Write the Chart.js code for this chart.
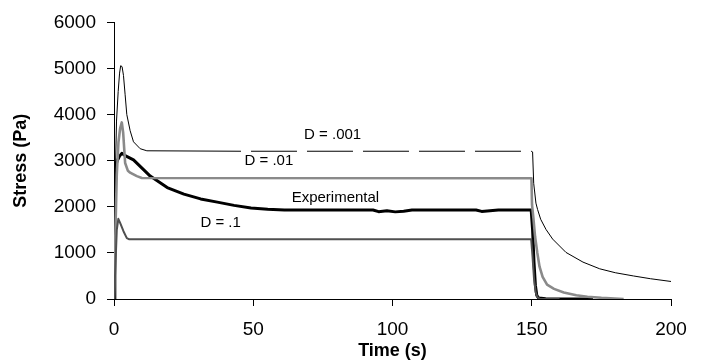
<!DOCTYPE html>
<html>
<head>
<meta charset="utf-8">
<script src="https://cdn.jsdelivr.net/npm/chart.js@4.4.1/dist/chart.umd.min.js"></script>
<style>
  html, body { margin: 0; padding: 0; background: #fff; }
  #wrap { width: 701px; height: 362px; position: relative; }
</style>
</head>
<body>
<div id="wrap"><canvas id="stressChart"></canvas></div>
<script>
/* Stress relaxation: model runs (D = .001 / .01 / .1) vs experimental */

// D = .001
const d001Time   = [0, 0.3, 0.9, 1.5, 2.0, 2.4, 2.9, 3.4, 4.0, 4.6, 5.8, 7.0, 9.4, 11.8, 45.6, 149.8, 150.3, 150.7, 151.5, 152.1, 153.2, 155.1, 157.5, 162.3, 168.4, 174.4, 180, 186.5, 192.6, 200];
const d001Stress = [0, 2200, 3860, 4500, 4900, 5060, 5040, 4850, 4430, 4000, 3650, 3410, 3260, 3215, 3205, 3205, 3190, 2510, 2080, 1940, 1730, 1510, 1300, 1010, 800, 655, 570, 500, 440, 380];

// D = .01
const d01Time   = [0, 0.4, 1.0, 1.6, 2.2, 2.8, 3.3, 4.0, 5.0, 5.8, 8.2, 10, 149.9, 150.1, 150.6, 151.2, 152.0, 152.8, 153.9, 155.5, 158, 161.5, 166, 170, 175, 183];
const d01Stress = [0, 1200, 2700, 3400, 3700, 3830, 3600, 2950, 2780, 2740, 2665, 2625, 2620, 2040, 1750, 1350, 1000, 700, 480, 310, 220, 140, 80, 50, 25, 0];

// Experimental
const expTime   = [0, 0.3, 0.6, 1.2, 2.0, 2.8, 4.0, 7.0, 13.0, 19.1, 25.1, 31.1, 37.1, 43.1, 49.2, 55.2, 61.2, 93, 95, 98, 101, 104, 107, 130, 132, 135, 138, 149.8, 150.3, 150.8, 151.3, 151.8, 152.5, 155, 165, 172];
const expStress = [0, 2950, 2900, 3000, 3100, 3160, 3110, 3017, 2666, 2418, 2276, 2171, 2101, 2031, 1974, 1946, 1930, 1930, 1895, 1915, 1890, 1905, 1930, 1930, 1900, 1915, 1930, 1930, 1500, 800, 300, 80, 20, 5, 0, 0];

// D = .1
const d1Time   = [0, 0.5, 1.0, 1.55, 2.2, 3.4, 4.6, 5.5, 149.8, 150.3, 150.8, 151.4, 152, 153, 160];
const d1Stress = [0, 700, 1500, 1740, 1650, 1470, 1320, 1295, 1295, 900, 450, 150, 40, 0, 0];

const xTicks = [0, 50, 100, 150, 200];
const yTicks = [0, 1000, 2000, 3000, 4000, 5000, 6000];

const toPoints = (t, s) => t.map((v, i) => ({ x: v, y: s[i] }));

// curve labels, anchored in data coordinates
const curveNotes = [
  { text: 'D = .001',     x: 78.5, y: 3554 },
  { text: 'D = .01',      x: 55.6, y: 3004 },
  { text: 'Experimental', x: 79.5, y: 2185 },
  { text: 'D = .1',       x: 38.3, y: 1646 }
];

const notesPlugin = {
  id: 'curveNotes',
  afterDatasetsDraw(chart) {
    const { ctx, scales } = chart;
    ctx.save();
    ctx.font = '15px "Liberation Sans", Arial, sans-serif';
    ctx.fillStyle = '#000';
    ctx.textAlign = 'center';
    ctx.textBaseline = 'middle';
    curveNotes.forEach(n => {
      ctx.fillText(n.text, scales.x.getPixelForValue(n.x), scales.y.getPixelForValue(n.y));
    });
    ctx.restore();
  }
};

const tickFont = { family: '"Liberation Sans", Arial, sans-serif', size: 19 };
const titleFont = { family: '"Liberation Sans", Arial, sans-serif', size: 18, weight: 'bold' };

new Chart(document.getElementById('stressChart'), {
  type: 'line',
  data: {
    datasets: [
      {
        label: 'D = .1',
        data: toPoints(d1Time, d1Stress),
        borderColor: '#505050',
        borderWidth: 2
      },
      {
        label: 'D = .01',
        data: toPoints(d01Time, d01Stress),
        borderColor: '#8a8a8a',
        borderWidth: 2.6
      },
      {
        label: 'D = .001',
        data: toPoints(d001Time, d001Stress),
        borderColor: '#000',
        borderWidth: 1,
        segment: {
          // long-dash stretch of the plateau
          borderDash: c => (c.p0.parsed.x >= 45 && c.p1.parsed.x <= 150.5) ? [46, 10] : undefined,
          borderDashOffset: c => (c.p0.parsed.x >= 45 && c.p1.parsed.x <= 150.5) ? 46 : undefined
        }
      },
      {
        label: 'Experimental',
        data: toPoints(expTime, expStress),
        borderColor: '#000',
        borderWidth: 3
      }
    ]
  },
  options: {
    responsive: true,
    maintainAspectRatio: false,
    animation: false,
    devicePixelRatio: 1,
    layout: { padding: { top: 16, right: 30, left: 0, bottom: 0 } },
    elements: {
      point: { radius: 0 },
      line: { tension: 0, fill: false, borderJoinStyle: 'round' }
    },
    plugins: {
      legend: { display: false },
      tooltip: { enabled: false }
    },
    scales: {
      x: {
        type: 'linear',
        min: 0,
        max: 200,
        afterBuildTicks: s => { s.ticks = xTicks.map(v => ({ value: v })); },
        afterFit: s => { s.height = 63; },
        ticks: { color: '#000', font: tickFont, padding: 12, maxRotation: 0, callback: v => String(v) },
        grid: { display: true, drawOnChartArea: false, drawTicks: true, tickLength: 7, color: '#000', tickColor: '#000', lineWidth: 1, tickWidth: 1 },
        border: { display: true, color: '#000', width: 1 },
        title: { display: true, text: 'Time (s)', color: '#000', font: titleFont, padding: { top: 0, bottom: 0 } }
      },
      y: {
        min: 0,
        max: 6000,
        afterBuildTicks: s => { s.ticks = yTicks.map(v => ({ value: v })); },
        afterFit: s => { s.width = 114; },
        ticks: { color: '#000', font: tickFont, padding: 11, callback: v => String(v) },
        grid: { display: true, drawOnChartArea: false, drawTicks: true, tickLength: 7, color: '#000', tickColor: '#000', lineWidth: 1, tickWidth: 1 },
        border: { display: true, color: '#000', width: 1 },
        title: { display: true, text: 'Stress (Pa)', color: '#000', font: titleFont, padding: { top: 10, bottom: 0 } }
      }
    }
  },
  plugins: [notesPlugin]
});
</script>
</body>
</html>
